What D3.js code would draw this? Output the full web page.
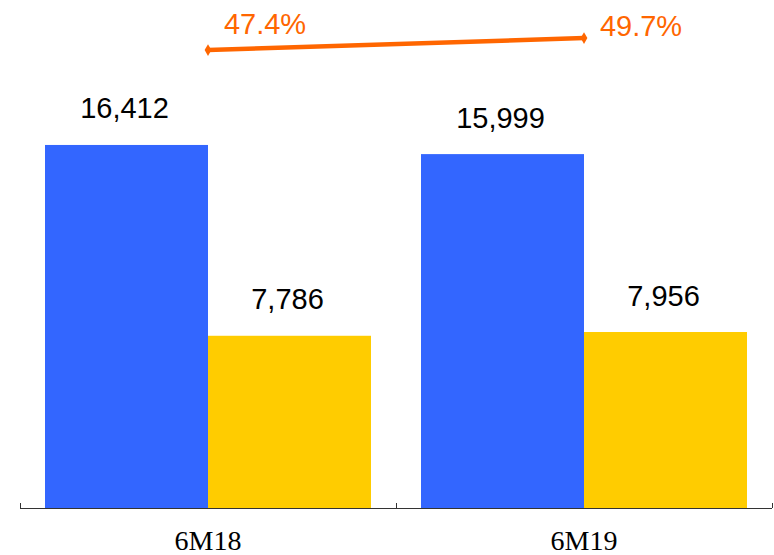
<!DOCTYPE html>
<html>
<head>
<meta charset="utf-8">
<script src="https://cdn.jsdelivr.net/npm/d3@7"></script>
<style>
  html, body { margin: 0; padding: 0; background: #fff; }
  svg { display: block; }
</style>
</head>
<body>
<svg id="chart" width="774" height="555"></svg>
<script>
// Half-year comparison: two bar series plus a ratio line
const categories = ["6M18", "6M19"];
const seriesA = [16412, 15999];
const seriesB = [7786, 7956];
const ratio = [47.4, 49.7];

const W = 774, H = 555;
const svg = d3.select("#chart");

const baseY = 508;
const x = d3.scaleBand().domain(categories).range([20, 772]).padding(0);
const inset = 25;
const barW = (x.bandwidth() - 2 * inset) / 2;

const y = d3.scaleLinear().domain([0, 20000]).range([baseY, 65.6]);
const yRatio = d3.scaleLinear().domain([20, 60]).range([193, -15.7]);

const fmt = d3.format(",");
const sans = "Liberation Sans, Arial, sans-serif";

// bars
const g = svg.append("g");
categories.forEach((c, i) => {
  const x0 = x(c) + inset;
  [[seriesA[i], "#3366FF"], [seriesB[i], "#FFCC00"]].forEach(([v, col], j) => {
    const bx = x0 + j * barW;
    g.append("rect")
      .attr("x", bx).attr("y", y(v))
      .attr("width", barW).attr("height", baseY - y(v))
      .attr("fill", col);
    g.append("text")
      .attr("x", bx + barW / 2 - 2).attr("y", y(v) - 26.5)
      .attr("text-anchor", "middle")
      .attr("font-family", sans).attr("font-size", 29)
      .attr("fill", "#000")
      .text(fmt(v));
  });
});

// axis with upward ticks at band boundaries
const axis = svg.append("g").attr("stroke", "#333").attr("stroke-width", 1);
axis.append("line").attr("x1", 20).attr("x2", 772).attr("y1", baseY + 0.5).attr("y2", baseY + 0.5);
const edges = categories.map(c => x(c)).concat([x(categories[categories.length - 1]) + x.bandwidth()]);
edges.forEach(e => {
  axis.append("line").attr("x1", e + 0.5).attr("x2", e + 0.5).attr("y1", baseY - 5).attr("y2", baseY);
});
categories.forEach(c => {
  svg.append("text")
    .attr("x", x(c) + x.bandwidth() / 2).attr("y", 550)
    .attr("text-anchor", "middle")
    .attr("font-family", "Liberation Serif, Times New Roman, serif")
    .attr("font-size", 28)
    .attr("fill", "#000")
    .text(c);
});

// ratio line between the bar groups
const px = c => x(c) + x.bandwidth() / 2;
const line = d3.line().x((d, i) => px(categories[i])).y(d => yRatio(d));
svg.append("path")
  .datum(ratio)
  .attr("d", line)
  .attr("fill", "none")
  .attr("stroke", "#FF6600")
  .attr("stroke-width", 4.5);
svg.selectAll(".mk").data(ratio).enter().append("path")
  .attr("transform", (d, i) => `translate(${px(categories[i])},${yRatio(d)})`)
  .attr("d", d3.symbol().type(d3.symbolDiamond).size(40))
  .attr("fill", "#FF6600");
svg.selectAll(".rl").data(ratio).enter().append("text")
  .attr("x", (d, i) => px(categories[i]) + 57)
  .attr("y", (d, i) => 33.5 + i * 2)
  .attr("text-anchor", "middle")
  .attr("font-family", sans).attr("font-size", 29)
  .attr("fill", "#FF6600")
  .text(d => d.toFixed(1) + "%");
</script>
</body>
</html>
